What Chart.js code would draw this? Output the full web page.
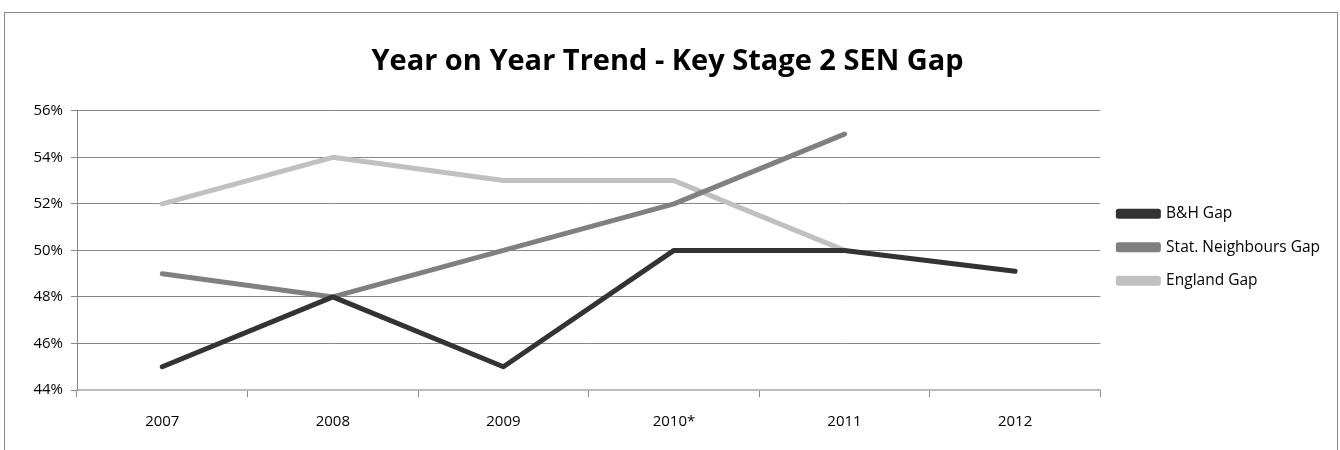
<!DOCTYPE html>
<html>
<head>
<meta charset="utf-8">
<script src="https://cdn.jsdelivr.net/npm/chart.js@4/dist/chart.umd.min.js"></script>
<style>
  body { margin: 0; background: #fff; }
  #moldura { position: absolute; left: 4px; top: 12px; width: 1332px; height: 450px; border: 1px solid #8a8a8a; }
  #grafico { position: absolute; left: 0; top: 0; }
</style>
</head>
<body>
<div id="moldura"><canvas id="grafico" width="1332" height="437"></canvas></div>
<script>
// dados
const anos = ["2007", "2008", "2009", "2010*", "2011", "2012"];
const bhGap = [45, 48, 45, 50, 50, 49.1];
const vizinhosGap = [49, 48, 50, 52, 55, null];
const inglaterraGap = [52, 54, 53, 53, 50, null];
const ticksY = [44, 46, 48, 50, 52, 54, 56];

const fonte = "'Open Sans', 'Noto Sans', sans-serif";

function serie(nome, valores, cor) {
    return {
        label: nome,
        data: valores,
        borderColor: cor,
        backgroundColor: cor,
        borderWidth: 5,
        borderCapStyle: "round",
        borderJoinStyle: "round",
        pointRadius: 0,
        pointHoverRadius: 0,
        tension: 0,
        spanGaps: false
    };
}

const ctx = document.getElementById("grafico").getContext("2d");

new Chart(ctx, {
    type: "line",
    data: {
        labels: anos,
        datasets: [
            serie("B&H Gap", bhGap, "#333333"),
            serie("Stat. Neighbours Gap", vizinhosGap, "#808080"),
            serie("England Gap", inglaterraGap, "#c0c0c0")
        ]
    },
    options: {
        responsive: false,
        animation: false,
        layout: { padding: { left: 0, right: 7, top: 0, bottom: 0 } },
        plugins: {
            tooltip: { enabled: false },
            title: {
                display: true,
                text: "Year on Year Trend - Key Stage 2 SEN Gap",
                color: "#000",
                font: { family: fonte, size: 29, weight: "bold" },
                padding: { top: 31, bottom: 32 }
            },
            legend: {
                position: "right",
                align: "start",
                // titulo vazio so para empurrar as legendas pra baixo
                title: { display: true, text: " ", font: { size: 10 }, padding: { top: 163, bottom: 0 } },
                labels: {
                    boxWidth: 40,
                    boxHeight: 5,
                    padding: 18,
                    color: "#000",
                    font: { family: fonte, size: 15.5 }
                }
            }
        },
        scales: {
            x: {
                offset: true,
                grid: {
                    offset: true,
                    drawOnChartArea: false,
                    drawTicks: true,
                    tickLength: 7,
                    color: "#888"
                },
                border: { color: "#bbb", width: 2 },
                ticks: { color: "#000", padding: 16, font: { family: fonte, size: 15 } },
                afterFit: s => { s.height = 60; }
            },
            y: {
                min: 44,
                max: 56,
                afterBuildTicks: s => { s.ticks = ticksY.map(v => ({ value: v })); },
                grid: { color: "#888", tickLength: 6, lineWidth: 1 },
                border: { color: "#888" },
                ticks: {
                    color: "#000",
                    padding: 8,
                    font: { family: fonte, size: 15 },
                    callback: v => v + "%"
                },
                afterFit: s => { s.width = 72; }
            }
        }
    }
});
</script>
</body>
</html>
